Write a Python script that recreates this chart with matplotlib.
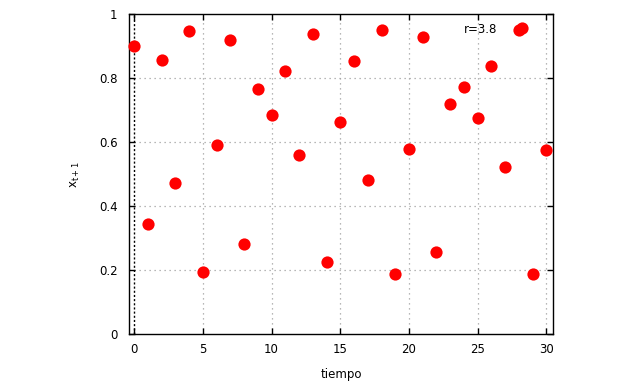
import matplotlib
matplotlib.use('Agg')
import matplotlib.pyplot as plt
import numpy as np

plt.rcParams['font.family'] = ['DejaVu Sans']
plt.rcParams['font.size'] = 8.5

# datos (serie temporal, r=3.8)
tiempo = [0, 1, 2, 3, 4, 5, 6, 7, 8, 9, 10, 11, 12, 13, 14, 15, 16, 17, 18, 19,
          20, 21, 22, 23, 24, 25, 26, 27, 28, 28.25, 29, 30]
x_t1 = [0.901, 0.345, 0.856, 0.473, 0.947, 0.194, 0.592, 0.919, 0.281, 0.767,
        0.684, 0.823, 0.560, 0.938, 0.226, 0.662, 0.854, 0.481, 0.950, 0.188,
        0.578, 0.928, 0.256, 0.719, 0.772, 0.677, 0.838, 0.523, 0.950, 0.956,
        0.188, 0.576]
x_ticks = [0, 5, 10, 15, 20, 25, 30]
y_ticks = [0, 0.2, 0.4, 0.6, 0.8, 1]
y_labels = ['0', '0.2', '0.4', '0.6', '0.8', '1']

fig = plt.figure(figsize=(6.4, 3.84), dpi=100)
ax = fig.add_axes([0.201, 0.1294, 0.6635, 0.8334])

ax.set_xlim(-0.4, 30.5)
ax.set_ylim(0, 1)
ax.set_xticks(x_ticks)
ax.set_yticks(y_ticks)
ax.set_yticklabels(y_labels)

# rejilla gris punteada
for xv in x_ticks[1:]:
    ax.axvline(xv, color='#a0a0a0', linestyle=(0, (1, 3)), linewidth=0.9, zorder=1)
for yv in y_ticks[1:-1]:
    ax.axhline(yv, color='#a0a0a0', linestyle=(0, (1, 3)), linewidth=0.9, zorder=1)
# eje cero
ax.axvline(0, color='black', linestyle=(0, (1.5, 1.5)), linewidth=1.0, zorder=1)

ax.plot(tiempo, x_t1, 'o', color='#ff0000', markersize=8.8,
        markeredgewidth=0, zorder=3, clip_on=False)

ax.text(26.4, 0.951, 'r=3.8', ha='right', va='center', fontsize=8.5)

for s in ax.spines.values():
    s.set_linewidth(1.0)
ax.tick_params(direction='in', length=4.5, width=1.0, top=True, right=True,
               labelsize=8.5, pad=6)
ax.tick_params(axis='y', pad=8)

ax.set_xlabel('tiempo', fontsize=8.5, labelpad=9)
ax.set_ylabel(r'x$_{\mathregular{t+1}}$', fontsize=8.5, labelpad=12)

fig.savefig('out.png', dpi=100)
